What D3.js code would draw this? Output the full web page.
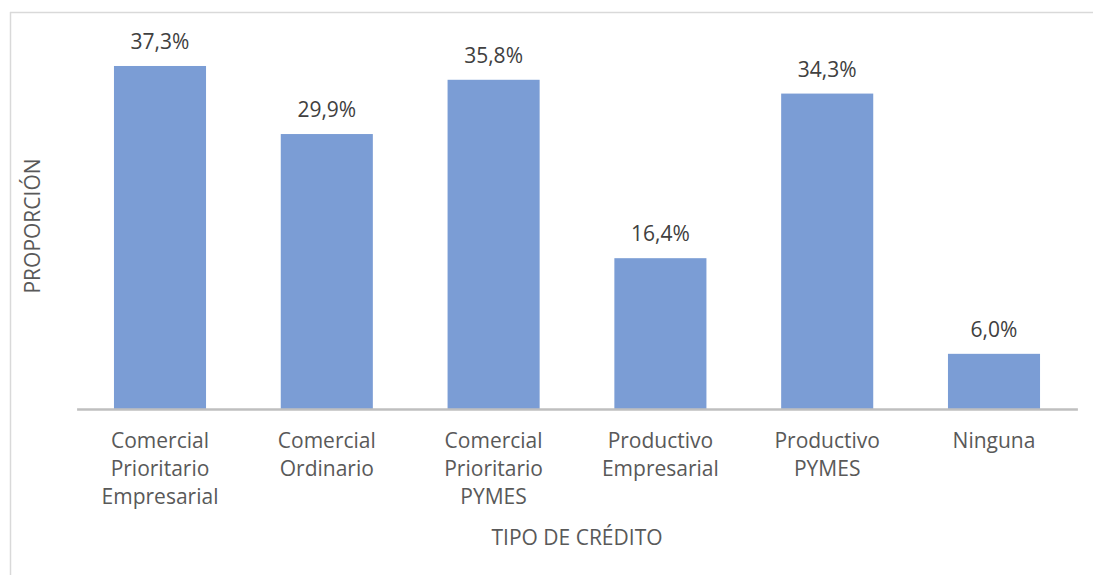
<!DOCTYPE html>
<html><head><meta charset="utf-8">
<script src="https://cdn.jsdelivr.net/npm/d3@7"></script>
<style>html,body{margin:0;padding:0;background:#fff;}</style>
</head><body>
<script>
const categories = [
  ["Comercial","Prioritario","Empresarial"],
  ["Comercial","Ordinario"],
  ["Comercial","Prioritario","PYMES"],
  ["Productivo","Empresarial"],
  ["Productivo","PYMES"],
  ["Ninguna"]
];
const values = [37.3, 29.9, 35.8, 16.4, 34.3, 6.0];
const valueLabels = ["37,3%","29,9%","35,8%","16,4%","34,3%","6,0%"];
const xTitle = "TIPO DE CRÉDITO";
const yTitle = "PROPORCIÓN";

const W = 1093, H = 575;
const font = "'Open Sans', sans-serif";
const fs = 21;
const svg = d3.select("body").append("svg").attr("width", W).attr("height", H);

// chart border (left and top)
svg.append("line").attr("x1",10.5).attr("x2",10.5).attr("y1",12).attr("y2",H).attr("stroke","#d9d9d9").attr("stroke-width",1.5);
svg.append("line").attr("x1",10).attr("x2",W).attr("y1",12.5).attr("y2",12.5).attr("stroke","#d9d9d9").attr("stroke-width",1.5);

const x = d3.scaleBand().domain(d3.range(values.length)).range([76.6, 1077.4]).paddingInner(0.448).paddingOuter(0.224);
const y = d3.scaleLinear().domain([0, 40]).range([409, 409 - 40*9.196]);

svg.selectAll("rect.bar").data(values).join("rect")
  .attr("class","bar")
  .attr("x",(d,i)=>x(i)).attr("width",x.bandwidth())
  .attr("y",d=>y(d)).attr("height",d=>y(0)-y(d))
  .attr("fill","#7b9dd5");

svg.selectAll("text.val").data(values).join("text")
  .attr("class","val")
  .attr("x",(d,i)=>x(i)+x.bandwidth()/2)
  .attr("y",d=>y(d)-17)
  .attr("text-anchor","middle")
  .attr("font-family",font).attr("font-size",fs)
  .attr("fill","#404040")
  .text((d,i)=>valueLabels[i]);

// x axis
const xAxis = svg.append("g").attr("transform",`translate(0,${y(0)})`)
  .call(d3.axisBottom(x).tickSize(0).tickFormat(""));
xAxis.select(".domain").attr("stroke","#bfbfbf").attr("stroke-width",2.5);
xAxis.selectAll(".tick").remove();

const lab = svg.append("g");
categories.forEach((lines,i)=>{
  const t = lab.append("text")
    .attr("x", x(i)+x.bandwidth()/2)
    .attr("y", 448)
    .attr("text-anchor","middle")
    .attr("font-family",font).attr("font-size",fs)
    .attr("fill","#595959");
  lines.forEach((l,j)=>{
    t.append("tspan").attr("x", x(i)+x.bandwidth()/2).attr("dy", j===0?0:28).text(l);
  });
});

svg.append("text").attr("x",577).attr("y",545).attr("text-anchor","middle")
  .attr("font-family",font).attr("font-size",fs).attr("fill","#595959").text(xTitle);

svg.append("text").attr("transform","translate(40,226) rotate(-90)").attr("text-anchor","middle")
  .attr("font-family",font).attr("font-size",fs).attr("fill","#595959").text(yTitle);
</script>
</body></html>
